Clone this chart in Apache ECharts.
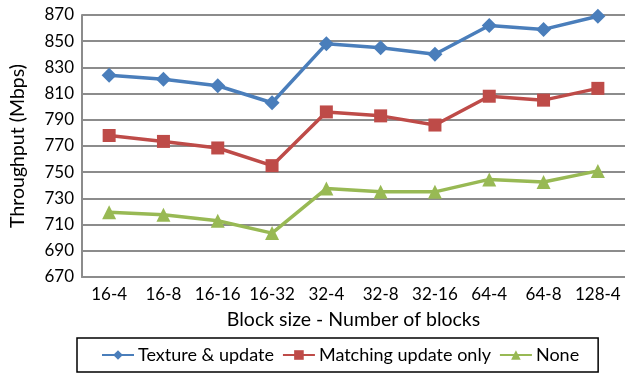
<!DOCTYPE html>
<html>
<head>
<meta charset="utf-8">
<script src="https://cdn.jsdelivr.net/npm/echarts@6/dist/echarts.min.js"></script>
<style>
  html, body { margin: 0; padding: 0; background: #fff; }
  #chart { width: 625px; height: 376px; }
</style>
</head>
<body>
<div id="chart"></div>
<script>
// Throughput per block configuration (block size - number of blocks)
const categories = ['16-4', '16-8', '16-16', '16-32', '32-4', '32-8', '32-16', '64-4', '64-8', '128-4'];
const textureUpdate = [824, 821, 816, 803, 848, 845, 840, 862, 859, 869];
const matchingUpdateOnly = [778, 773.5, 768.5, 755, 796, 793, 786, 808, 805, 814];
const noneValues = [719.5, 717.5, 713, 703.5, 737.5, 735, 735, 744.5, 742.5, 751];
const seriesNames = ['Texture & update', 'Matching update only', 'None'];

const FONT = 'Lato';
const chart = echarts.init(document.getElementById('chart'), null, { renderer: 'canvas' });

function lineSeries(name, data, color, symbol, size) {
  return {
    name: name,
    type: 'line',
    data: data,
    symbol: symbol,
    symbolSize: size,
    showSymbol: true,
    lineStyle: { color: color, width: 3.5 },
    itemStyle: { color: color },
    emphasis: { disabled: true },
    animation: false
  };
}

chart.setOption({
  backgroundColor: '#ffffff',
  textStyle: { fontFamily: FONT },
  grid: { left: 76, right: 0, top: 15, bottom: 99, containLabel: false },
  xAxis: {
    type: 'category',
    data: categories,
    boundaryGap: true,
    name: 'Block size - Number of blocks',
    nameLocation: 'middle',
    nameGap: 33,
    nameTextStyle: { fontFamily: FONT, fontSize: 19.5, color: '#000' },
    axisLine: { lineStyle: { color: '#8c8c8c', width: 2 } },
    axisTick: { show: false },
    axisLabel: { fontFamily: FONT, fontSize: 17, color: '#000', margin: 9, interval: 0 },
    splitLine: { show: false }
  },
  yAxis: {
    type: 'value',
    min: 670,
    max: 870,
    interval: 20,
    name: 'Throughput (Mbps)',
    nameLocation: 'middle',
    nameGap: 54,
    nameTextStyle: { fontFamily: FONT, fontSize: 19.5, color: '#000' },
    axisLine: { show: true, lineStyle: { color: '#8c8c8c', width: 2 } },
    axisTick: { show: false },
    axisLabel: { fontFamily: FONT, fontSize: 17, color: '#000', margin: 8 },
    splitLine: { show: true, lineStyle: { color: '#8c8c8c', width: 2 } }
  },
  legend: {
    data: seriesNames,
    left: 77,
    top: 338,
    orient: 'horizontal',
    borderColor: '#000',
    borderWidth: 1.5,
    padding: [8, 19, 8, 24],
    itemWidth: 32,
    itemHeight: 12,
    itemGap: 8,
    textStyle: { fontFamily: FONT, fontSize: 18, color: '#000', padding: [0, 0, 0, -1] }
  },
  series: [
    lineSeries(seriesNames[0], textureUpdate, '#4a7ebb', 'diamond', 15),
    lineSeries(seriesNames[1], matchingUpdateOnly, '#be4b48', 'rect', 13),
    lineSeries(seriesNames[2], noneValues, '#98b954', 'triangle', 14)
  ]
});
</script>
</body>
</html>
